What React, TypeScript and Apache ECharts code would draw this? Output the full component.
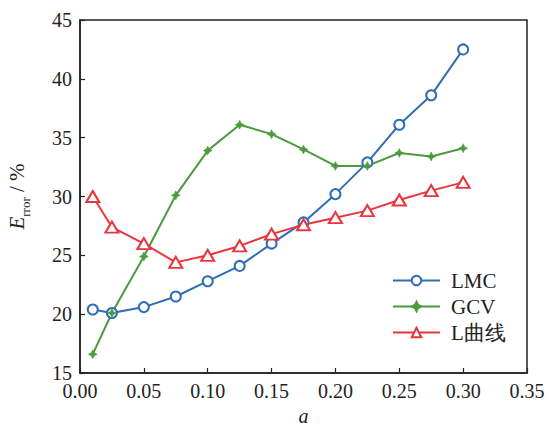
import React, { useEffect, useRef } from "react";
import * as echarts from "echarts";

const xValues = [0.01, 0.025, 0.05, 0.075, 0.1, 0.125, 0.15, 0.175, 0.2, 0.225, 0.25, 0.275, 0.3];
const lmc = [20.4, 20.1, 20.6, 21.5, 22.8, 24.1, 26.0, 27.8, 30.2, 32.9, 36.1, 38.6, 42.5];
const gcv = [16.6, 20.1, 24.9, 30.1, 33.9, 36.1, 35.3, 34.0, 32.6, 32.6, 33.7, 33.4, 34.1];
const lcurve = [30.0, 27.4, 26.0, 24.4, 25.0, 25.8, 26.8, 27.6, 28.2, 28.8, 29.7, 30.5, 31.2];
const seriesNames = ["LMC", "GCV", "L曲线"];

const FONT = "'Liberation Serif', 'Times New Roman', serif";
const BLUE = "#2f6db5";
const GREEN = "#4b9a3d";
const RED = "#e8363e";
const AXIS = "#222222";

const starPath = "path://M0,-5 L1.7,-1.7 L5,0 L1.7,1.7 L0,5 L-1.7,1.7 L-5,0 L-1.7,-1.7 Z";

function pairs(vals: number[]) {
  return xValues.map((x, i) => [x, vals[i]]);
}

export default function App() {
  const ref = useRef<HTMLDivElement>(null);
  useEffect(() => {
    if (!ref.current) return;
    const chart = echarts.init(ref.current, null, { renderer: "svg" });
    chart.setOption({
      animation: false,
      backgroundColor: "#ffffff",
      textStyle: { fontFamily: FONT },
      grid: {
        left: 80,
        right: 23,
        top: 20,
        bottom: 53,
        show: true,
        borderColor: AXIS,
        borderWidth: 1.5,
        containLabel: false,
        outerBoundsMode: "none",
      },
      legend: {
        orient: "vertical",
        left: 392,
        top: 270,
        padding: 0,
        itemWidth: 47,
        itemHeight: 12,
        itemGap: 5,
        data: seriesNames,
        textStyle: { fontFamily: FONT, fontSize: 21, color: "#222", padding: [0, 0, 0, 6] },
      },
      xAxis: {
        type: "value",
        min: 0,
        max: 0.35,
        interval: 0.05,
        name: "a",
        nameLocation: "middle",
        nameGap: 33,
        nameTextStyle: { fontFamily: FONT, fontSize: 20, lineHeight: 12, fontStyle: "italic", color: "#222" },
        axisLine: { show: true, lineStyle: { color: AXIS, width: 1.5 } },
        axisTick: { show: true, inside: true, length: 5, lineStyle: { color: AXIS, width: 1.2 } },
        axisLabel: {
          fontFamily: FONT,
          fontSize: 20,
          color: "#222",
          margin: 8,
          formatter: (v: number) => v.toFixed(2),
        },
        splitLine: { show: false },
      },
      yAxis: {
        type: "value",
        min: 15,
        max: 45,
        interval: 5,
        name: "{i|E}{s|rror}{n| / %}",
        nameLocation: "middle",
        nameGap: 48,
        nameRotate: 90,
        nameTextStyle: {
          fontFamily: FONT,
          fontSize: 20,
          color: "#222",
          rich: {
            i: { fontFamily: FONT, fontSize: 21, fontStyle: "italic", color: "#222", verticalAlign: "top", lineHeight: 26 },
            s: { fontFamily: FONT, fontSize: 13, color: "#222", verticalAlign: "bottom", lineHeight: 26 },
            n: { fontFamily: FONT, fontSize: 21, color: "#222", verticalAlign: "top", lineHeight: 26 },
          },
        },
        axisLine: { show: true, lineStyle: { color: AXIS, width: 1.5 } },
        axisTick: { show: true, inside: true, length: 5, lineStyle: { color: AXIS, width: 1.2 } },
        axisLabel: { fontFamily: FONT, fontSize: 20, color: "#222", margin: 8 },
        splitLine: { show: false },
      },
      series: [
        {
          name: seriesNames[0],
          type: "line",
          data: pairs(lmc),
          symbol: "emptyCircle",
          symbolSize: 10,
          lineStyle: { color: BLUE, width: 2 },
          itemStyle: { color: BLUE, borderColor: BLUE, borderWidth: 2 },
        },
        {
          name: seriesNames[1],
          type: "line",
          data: pairs(gcv),
          symbol: starPath,
          symbolSize: 9,
          lineStyle: { color: GREEN, width: 2 },
          itemStyle: { color: GREEN, borderColor: GREEN, borderWidth: 0.5 },
        },
        {
          name: seriesNames[2],
          type: "line",
          data: pairs(lcurve),
          symbol: "emptyTriangle",
          symbolSize: [13, 11],
          lineStyle: { color: RED, width: 2 },
          itemStyle: { color: RED, borderColor: RED, borderWidth: 2 },
        },
      ],
    });
    return () => chart.dispose();
  }, []);
  return <div ref={ref} style={{ width: 550, height: 426, position: "absolute", left: 0, top: 0 }} />;
}
